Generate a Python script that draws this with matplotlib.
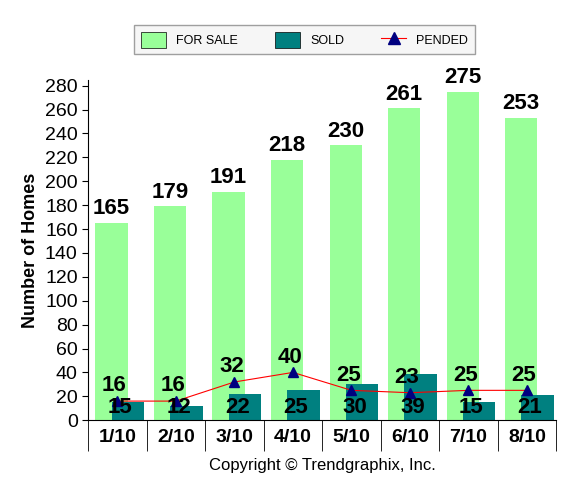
import numpy as np
import matplotlib.pyplot as plt
from matplotlib.lines import Line2D
from matplotlib.patches import Patch

plt.rcParams["font.family"] = ["Liberation Sans", "DejaVu Sans"]

months = ["1/10", "2/10", "3/10", "4/10", "5/10", "6/10", "7/10", "8/10"]
for_sale = [165, 179, 191, 218, 230, 261, 275, 253]
sold = [15, 12, 22, 25, 30, 39, 15, 21]
pended = [16, 16, 32, 40, 25, 23, 25, 25]

green = "#99ff99"
teal = "#008080"

fig = plt.figure(figsize=(5.8, 4.83), dpi=100)
ax = fig.add_axes([0.152, 0.130, 0.807, 0.705])
x = np.arange(len(months))

ax.bar(x - 0.1, for_sale, width=0.55, color=green, zorder=1)
ax.bar(x + 0.18, sold, width=0.55, color=teal, zorder=2)
ax.plot(x, pended, color="red", lw=0.8, zorder=3)
ax.plot(x, pended, ls="none", marker="^", color="#000080", ms=7, zorder=4)

for i in x:
    ax.text(i - 0.1, for_sale[i] + 3, str(for_sale[i]), ha="center", va="bottom",
            fontsize=16, fontweight="bold")
    ax.text(i + 0.05, 11, str(sold[i]), ha="center", va="center",
            fontsize=16, fontweight="bold", zorder=5)
    ax.text(i - 0.05, pended[i] + 4, str(pended[i]), ha="center", va="bottom",
            fontsize=16, fontweight="bold", zorder=5)

ax.set_xlim(-0.5, 7.5)
ax.set_ylim(0, 285)
ax.set_yticks(range(0, 281, 20))
ax.tick_params(axis="y", labelsize=14, length=4)
ax.set_xticks(x)
ax.set_xticklabels(months, fontsize=14, fontweight="bold")
ax.tick_params(axis="x", length=0, pad=6)
ax.set_xticks(np.arange(-0.5, 8, 1), minor=True)
ax.tick_params(axis="x", which="minor", length=22)
for s in ["top", "right"]:
    ax.spines[s].set_visible(False)
ax.set_ylabel("Number of Homes", fontsize=13, fontweight="bold")
ax.set_xlabel("Copyright \u00a9 Trendgraphix, Inc.", fontsize=12, labelpad=2)

handles = [Patch(facecolor=green, edgecolor="black", lw=0.5),
           Patch(facecolor=teal, edgecolor="black", lw=0.5),
           Line2D([], [], color="red", lw=0.8, marker="^", mfc="#000080", mec="#000080", ms=8)]
leg = fig.legend(handles, ["FOR SALE", "SOLD", "PENDED"], loc="center", ncol=3,
                 bbox_to_anchor=(0.525, 0.918), fontsize=9, frameon=True, fancybox=False,
                 edgecolor="#888888", handlelength=2, handleheight=1.6,
                 columnspacing=3, borderpad=0.5)
leg.get_frame().set_facecolor("#f4f4f4")

fig.savefig("out.png")
